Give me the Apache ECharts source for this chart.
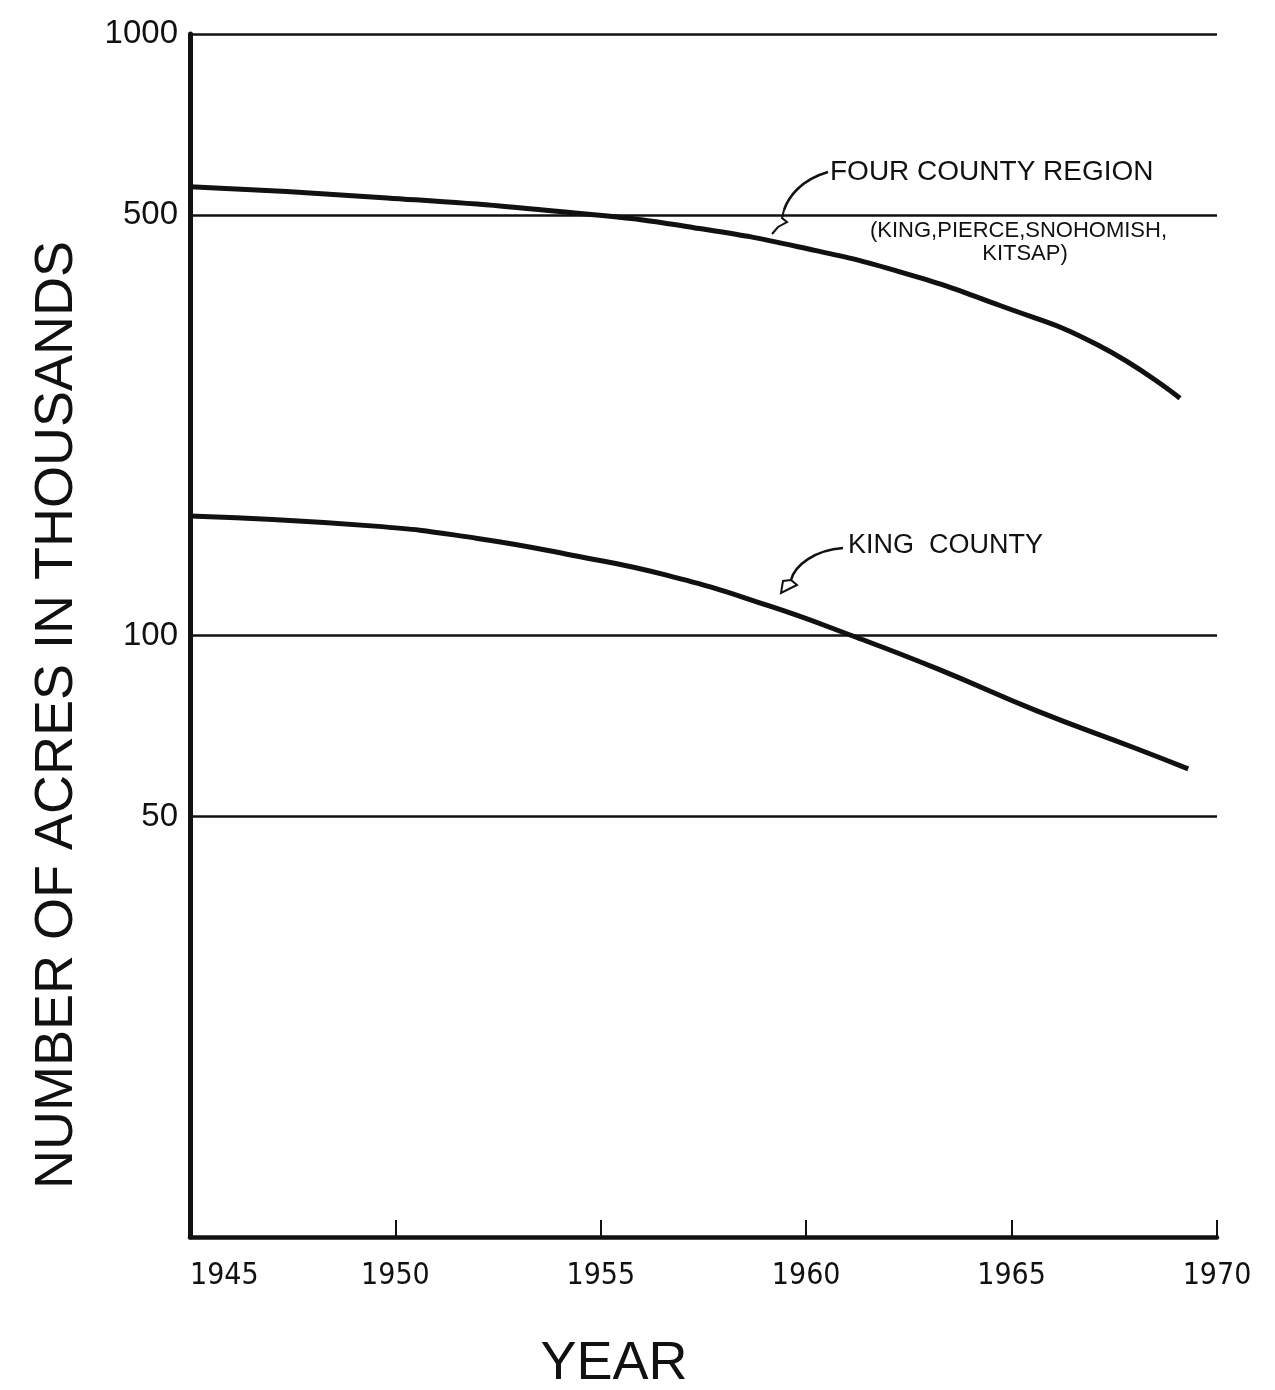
<!DOCTYPE html>
<html><head><meta charset="utf-8">
<script src="https://cdn.jsdelivr.net/npm/echarts@6/dist/echarts.min.js"></script>
<style>html,body{margin:0;padding:0;background:#fff}#c{width:1275px;height:1390px}</style>
</head><body><div id="c"></div>
<script>
// Four County Region (King, Pierce, Snohomish, Kitsap) — acres in thousands
const fourYears  = [1945, 1949.8, 1954.9, 1957.4, 1959.8, 1962.3, 1964.7, 1967.1, 1969.1];
const fourCounty = [557, 534, 500, 475, 443, 402, 354, 304, 248];
// King County — acres in thousands
const kingYears  = [1945, 1949.5, 1952.0, 1954.3, 1956.6, 1959.1, 1961.1, 1963.2, 1965.6, 1968.0, 1969.3];
const kingCounty = [158, 152, 145, 136, 126, 112, 100, 88, 75, 65, 60];
// reference lines / y tick labels
const yGridValues = [50, 100, 500, 1000];
const xTickLabels = ['1945', '1950', '1955', '1960', '1965', '1970'];

const FONT = "'Liberation Sans', 'DejaVu Sans', sans-serif";
const NARROW = "'Liberation Sans Narrow', 'DejaVu Sans Condensed', 'Liberation Sans', sans-serif";
const INK = '#111';

const chart = echarts.init(document.getElementById('c'), null, {renderer: 'canvas'});

function pairs(xs, ys) { return xs.map((x, i) => [x, ys[i]]); }

function txt(text, x, y, size, opts) {
  opts = opts || {};
  return {
    type: 'text', x: x, y: y, rotation: opts.rotation || 0, z: 10,
    style: {
      text: text, fill: INK,
      font: (opts.weight || 'normal') + ' ' + size + 'px ' + (opts.family || FONT),
      textAlign: opts.align || 'left', textVerticalAlign: 'middle',
      align: opts.align || 'left', verticalAlign: 'middle'
    }
  };
}

chart.setOption({
  backgroundColor: '#fff',
  animation: false,
  grid: {left: 190, right: 58, top: 34, bottom: 153, containLabel: false},
  xAxis: {
    type: 'value', min: 1945, max: 1970, interval: 5,
    axisLine: {show: true, lineStyle: {color: INK, width: 4.5}},
    axisTick: {show: true, inside: true, length: 17, lineStyle: {color: INK, width: 2}},
    axisLabel: {
      show: true, margin: 24, color: INK, fontSize: 30, fontFamily: NARROW,
      alignMinLabel: 'left',
      formatter: function (v) { const i = Math.round((v - 1945) / 5); return xTickLabels[i] || ''; }
    },
    splitLine: {show: false}
  },
  yAxis: {
    type: 'log', logBase: 10, min: 10, max: 1000,
    axisLine: {show: true, onZero: false, lineStyle: {color: INK, width: 5}},
    axisTick: {show: false},
    axisLabel: {show: false},
    splitLine: {show: false}
  },
  series: [
    {
      name: 'Grid', type: 'line', data: [], silent: true,
      markLine: {
        silent: true, symbol: 'none', animation: false,
        lineStyle: {color: INK, width: 2.5, type: 'solid'},
        label: {
          show: true, position: 'start', distance: 12, color: INK,
          fontSize: 33, fontFamily: FONT,
          formatter: function (p) { return String(p.value); }
        },
        data: yGridValues.map(v => ({yAxis: v}))
      }
    },
    {
      name: 'Four County Region', type: 'line', smooth: 0.5, symbol: 'none',
      lineStyle: {color: INK, width: 5},
      data: pairs(fourYears, fourCounty)
    },
    {
      name: 'King County', type: 'line', smooth: 0.5, symbol: 'none',
      lineStyle: {color: INK, width: 5},
      data: pairs(kingYears, kingCounty)
    }
  ],
  graphic: [
    txt('NUMBER OF ACRES IN THOUSANDS', 57, 715, 54, {rotation: Math.PI / 2, align: 'center'}),
    txt('YEAR', 614, 1364, 54, {align: 'center'}),
    txt('FOUR COUNTY REGION', 830, 172, 28),
    txt('(KING,PIERCE,SNOHOMISH,', 870, 231, 22),
    txt('KITSAP)', 1025, 254, 22, {align: 'center'}),
    txt('KING  COUNTY', 848, 546, 27),
    {
      type: 'bezierCurve', z: 10,
      shape: {x1: 828, y1: 172, cpx1: 800, cpy1: 180, cpx2: 788, cpy2: 198, x2: 784, y2: 210},
      style: {stroke: INK, lineWidth: 2.5, fill: null}
    },
    {
      type: 'polyline', z: 10,
      shape: {points: [[784, 210], [782, 218], [787, 222], [778, 227], [772, 234]]},
      style: {stroke: INK, lineWidth: 2, fill: null}
    },
    {
      type: 'bezierCurve', z: 10,
      shape: {x1: 843, y1: 548, cpx1: 815, cpy1: 550, cpx2: 795, cpy2: 565, x2: 791, y2: 580},
      style: {stroke: INK, lineWidth: 2.5, fill: null}
    },
    {
      type: 'polyline', z: 10,
      shape: {points: [[791, 580], [797, 585], [781, 593], [783, 581], [791, 580]]},
      style: {stroke: INK, lineWidth: 2, fill: null}
    }
  ]
});
</script>
</body></html>
